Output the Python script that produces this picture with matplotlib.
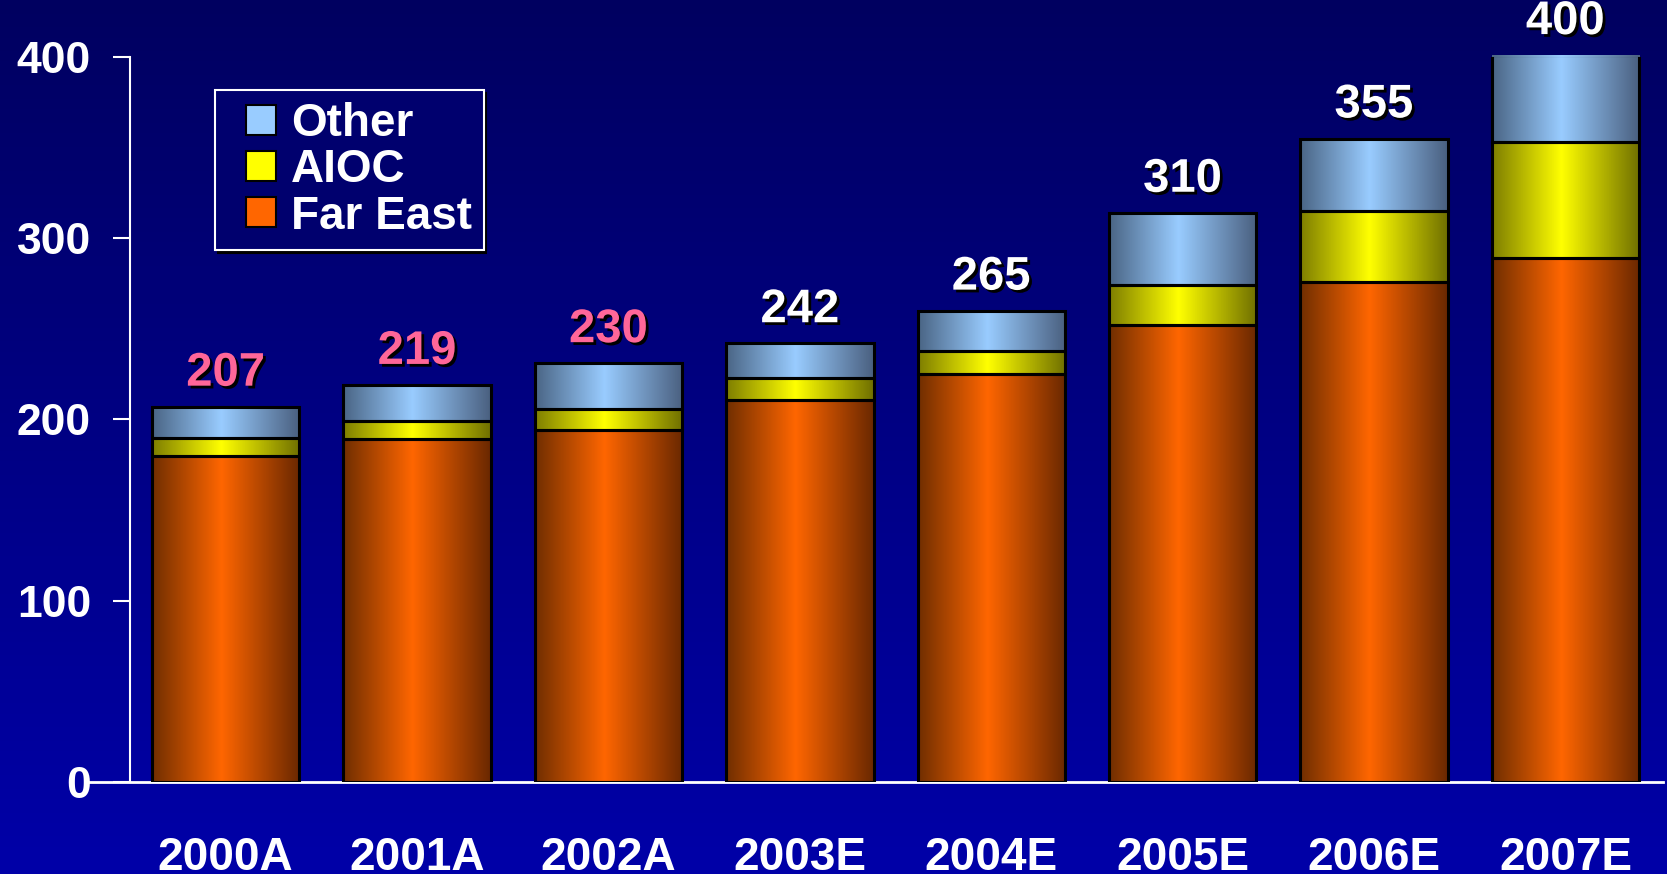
import matplotlib
matplotlib.use("Agg")
import matplotlib.pyplot as plt
import matplotlib.patheffects as pe
from matplotlib.colors import LinearSegmentedColormap
from matplotlib.lines import Line2D
import numpy as np

years = ["2000A", "2001A", "2002A", "2003E", "2004E", "2005E", "2006E", "2007E"]
far_east = [180, 189, 194, 211, 225, 252, 276, 289]
aioc = [10, 10, 12, 12, 13, 22, 39, 64]
other = [17, 20, 25, 19, 22, 40, 40, 48]
totals_text = ["207", "219", "230", "242", "265", "310", "355", "400"]
label_cols = ["#FF6699"] * 3 + ["white"] * 5

# colours: left edge, centre, right edge
shades = {
    "Far East": ["#702E00", "#FF6600", "#6A2800"],
    "AIOC": ["#7E7E00", "#FFFF00", "#707000"],
    "Other": ["#4A6585", "#99CCFF", "#4A6080"],
}

fig = plt.figure(figsize=(16.67, 8.74), dpi=100)

# background gradient
bg = fig.add_axes([0, 0, 1, 1], zorder=0)
grad = np.linspace(0, 1, 256).reshape(-1, 1)
bg_cmap = LinearSegmentedColormap.from_list("bg", ["#000060", "#0000A8"])
bg.imshow(grad, aspect="auto", cmap=bg_cmap, extent=[0, 1, 1, 0])
bg.axis("off")

ax = fig.add_axes([0.051, 0.1053, 0.9466, 0.8295], zorder=1)
ax.set_facecolor("none")
for s in ["top", "right"]:
    ax.spines[s].set_visible(False)
ax.spines["left"].set_position(("data", -0.5))
ax.spines["left"].set_color("white")
ax.spines["left"].set_linewidth(1.5)
ax.spines["bottom"].set_color("white")
ax.spines["bottom"].set_linewidth(2)

x = np.arange(len(years))
width = 0.77
hgrad = np.linspace(0, 1, 200).reshape(1, -1)

bottom = np.zeros(len(years))
for name, vals in [("Far East", far_east), ("AIOC", aioc), ("Other", other)]:
    cmap = LinearSegmentedColormap.from_list(name, [(0, shades[name][0]), (0.47, shades[name][1]), (1, shades[name][2])])
    bars = ax.bar(x, vals, width, bottom=bottom, facecolor="none", edgecolor="black", linewidth=2.2, zorder=3)
    for b in bars:
        x0, y0 = b.get_x(), b.get_y()
        im = ax.imshow(hgrad, cmap=cmap, aspect="auto", extent=[x0, x0 + b.get_width(), y0, y0 + b.get_height()], zorder=2)
        im.set_clip_path(b)
    bottom += np.array(vals)

shadow = [pe.withSimplePatchShadow(offset=(2, -2), shadow_rgbFace="black", alpha=1)]
for i, t in enumerate(totals_text):
    ax.annotate(t, (x[i], bottom[i]), xytext=(0, 8), textcoords="offset points", ha="center", va="bottom",
                fontsize=34, fontweight="bold", color=label_cols[i], family="Liberation Sans",
                path_effects=shadow, annotation_clip=False, zorder=5)

ax.set_xlim(-0.735, 7.51)
ax.set_ylim(0, 400)
ax.set_yticks([0, 100, 200, 300, 400])
ax.set_yticklabels(["0", "100", "200", "300", "400"], fontsize=32, fontweight="bold", color="white", family="Liberation Sans")
ax.set_xticks(x)
ax.set_xticklabels(years, fontsize=33, fontweight="bold", color="white", family="Liberation Sans")
ax.tick_params(axis="y", length=12, width=1.5, color="white", direction="out", pad=16)
ax.tick_params(axis="x", length=0, pad=39)

handles = [Line2D([], [], ls="none", marker="s", markersize=21.5, markerfacecolor=shades[n][1],
                  markeredgecolor="black", markeredgewidth=1.5) for n in ["Other", "AIOC", "Far East"]]
leg = ax.legend(handles, ["Other", "AIOC", "Far East"], loc="upper left", bbox_to_anchor=(0.129, 0.897),
                bbox_transform=fig.transFigure, borderaxespad=0, frameon=True, fancybox=False,
                shadow={"color": "black", "alpha": 1},
                prop={"family": "Liberation Sans", "weight": "bold", "size": 33},
                handlelength=1.48, handletextpad=-0.09, labelspacing=0.05, borderpad=0.26)
leg.get_frame().set_facecolor("#00006E")
leg.get_frame().set_edgecolor("white")
leg.get_frame().set_linewidth(1.5)
for t in leg.get_texts():
    t.set_color("white")

fig.savefig("out.png", dpi=100)
